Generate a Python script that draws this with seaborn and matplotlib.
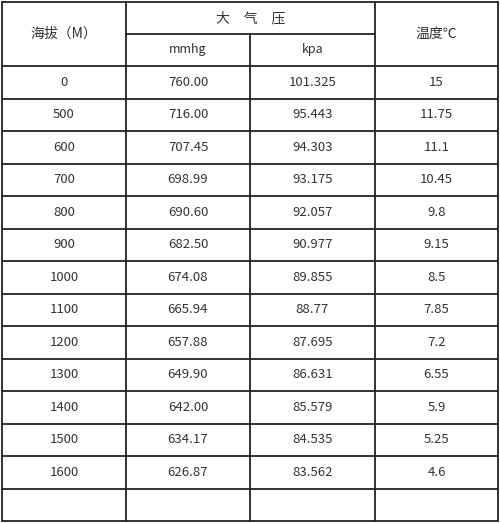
import matplotlib
matplotlib.use("Agg")
import matplotlib.pyplot as plt
import seaborn as sns

sns.set_style("white")
plt.rcParams['font.family'] = ['Noto Sans CJK SC', 'DejaVu Sans']

altitude = ["0","500","600","700","800","900","1000","1100","1200","1300","1400","1500","1600",""]
mmhg = ["760.00","716.00","707.45","698.99","690.60","682.50","674.08","665.94","657.88","649.90","642.00","634.17","626.87",""]
kpa = ["101.325","95.443","94.303","93.175","92.057","90.977","89.855","88.77","87.695","86.631","85.579","84.535","83.562",""]
temp = ["15","11.75","11.1","10.45","9.8","9.15","8.5","7.85","7.2","6.55","5.9","5.25","4.6",""]

W, H = 500, 523
fig = plt.figure(figsize=(W/100, H/100), dpi=100)
ax = fig.add_axes([0, 0, 1, 1])
ax.set_xlim(0, W); ax.set_ylim(H, 0); ax.axis("off")

xs = [2, 126, 250, 375, 498]
top, mid, hb = 2, 34, 66
rh = (521 - hb) / len(altitude)
bottom = hb + rh * len(altitude)
lc = "#222222"; lw = 1.3
# outer + vertical lines
for x in [xs[0], xs[-1]]:
    ax.plot([x, x], [top, bottom], color=lc, lw=lw)
ax.plot([xs[1], xs[1]], [top, bottom], color=lc, lw=lw)
ax.plot([xs[3], xs[3]], [top, bottom], color=lc, lw=lw)
ax.plot([xs[2], xs[2]], [mid, bottom], color=lc, lw=lw)
ax.plot([xs[0], xs[-1]], [top, top], color=lc, lw=lw)
ax.plot([xs[1], xs[3]], [mid, mid], color=lc, lw=lw)
for i in range(len(altitude) + 1):
    y = hb + i * rh
    ax.plot([xs[0], xs[-1]], [y, y], color=lc, lw=lw)

tc = "#333333"
ax.text((xs[0]+xs[1])/2, (top+hb)/2, "海拔（M）", ha="center", va="center", fontsize=10, color=tc)
ax.text((xs[1]+xs[3])/2, (top+mid)/2, "大　气　压", ha="center", va="center", fontsize=10, color=tc)
ax.text((xs[1]+xs[2])/2, (mid+hb)/2, "mmhg", ha="center", va="center", fontsize=9, color=tc)
ax.text((xs[2]+xs[3])/2, (mid+hb)/2, "kpa", ha="center", va="center", fontsize=9, color=tc)
ax.text((xs[3]+xs[4])/2, (top+hb)/2, "温度℃", ha="center", va="center", fontsize=10, color=tc)

cols = [altitude, mmhg, kpa, temp]
for c, vals in enumerate(cols):
    cx = (xs[c] + xs[c+1]) / 2
    for i, v in enumerate(vals):
        ax.text(cx, hb + (i + 0.5) * rh, v, ha="center", va="center", fontsize=9.5, color=tc)

fig.savefig("out.png", dpi=100)
